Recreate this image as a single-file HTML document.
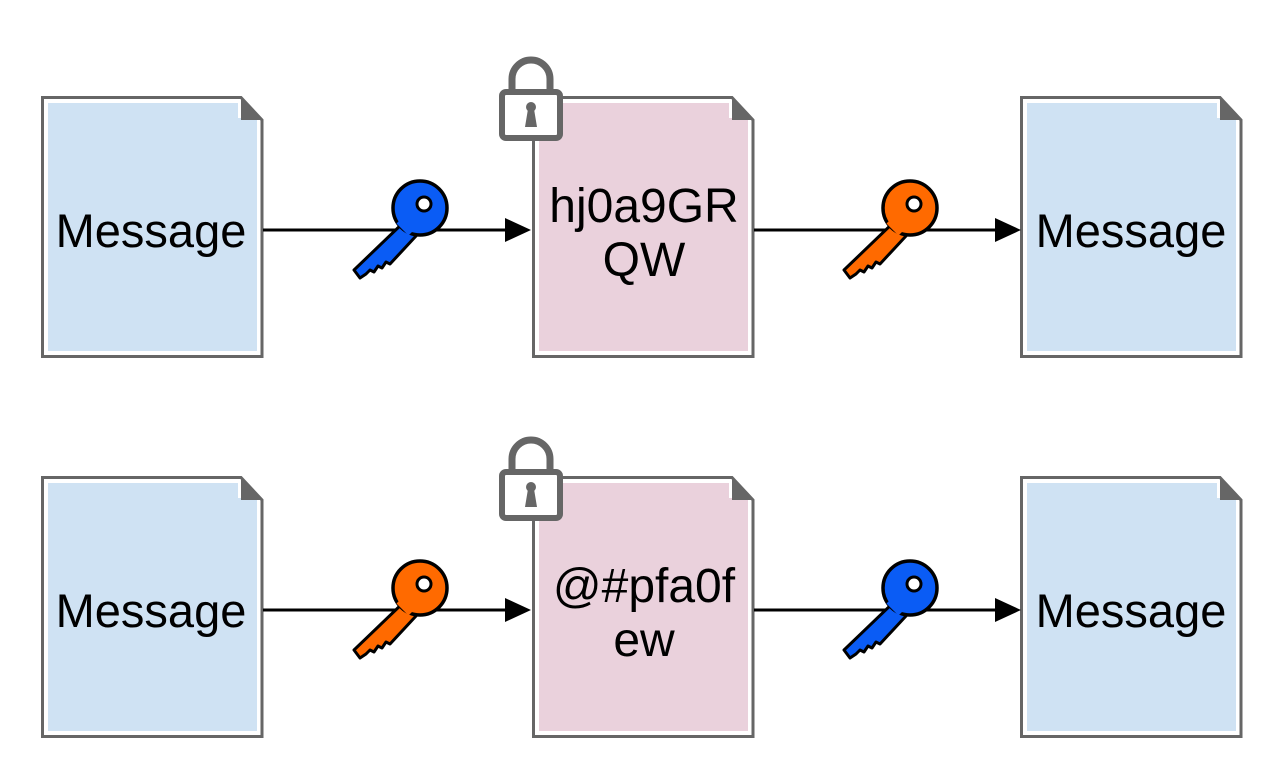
<!DOCTYPE html>
<html><head><style>html,body{margin:0;padding:0;background:#fff}svg{display:block}</style></head>
<body>
<svg width="1280" height="780" viewBox="0 0 1280 780" xmlns="http://www.w3.org/2000/svg" font-family="Liberation Sans, sans-serif">
<defs>
<g id="key">
  <path d="M-16,14 L-66,62 L-60,70 L-54,66 L-50,62 L-46,64 L-42,58 L-38,60 L-34,54 L-30,56 L-4,28 Z" fill="currentColor" stroke="#000" stroke-width="3" stroke-linejoin="round"/>
  <circle cx="0" cy="0" r="27" fill="currentColor" stroke="#000" stroke-width="3.5"/>
  <path d="M-20,12 L-8,24" stroke="currentColor" stroke-width="10"/>
  <circle cx="4" cy="-4" r="7" fill="#fff" stroke="#000" stroke-width="3"/>
</g>
<g id="lock">
  <path d="M12,32 V18 A19,19 0 0 1 50,18 V32" fill="none" stroke="#666" stroke-width="7"/>
  <rect x="2" y="31" width="58" height="46" rx="4" fill="#fff" stroke="#666" stroke-width="6"/>
  <circle cx="31" cy="46" r="5" fill="#666"/>
  <path d="M28,48 L25,66 L37,66 L34,48 Z" fill="#666"/>
</g>
</defs>

<g>
  <path d="M42.5,97.5 H241 L262,120 V356.5 H42.5 Z" fill="#fff" stroke="#666" stroke-width="3"/>
  <path d="M48,103 H238 V118 H257 V351 H48 Z" fill="#cfe2f3"/>
  <path d="M241,97.5 L262,120 H241 Z" fill="#666"/>

  <path d="M533.5,97.5 H732 L753,120 V356.5 H533.5 Z" fill="#fff" stroke="#666" stroke-width="3"/>
  <path d="M539,103 H729 V118 H748 V351 H539 Z" fill="#ead1dc"/>
  <path d="M732,97.5 L753,120 H732 Z" fill="#666"/>

  <path d="M1021.5,97.5 H1220 L1241,120 V356.5 H1021.5 Z" fill="#fff" stroke="#666" stroke-width="3"/>
  <path d="M1027,103 H1217 V118 H1236 V351 H1027 Z" fill="#cfe2f3"/>
  <path d="M1220,97.5 L1241,120 H1220 Z" fill="#666"/>

  <path d="M42.5,477.5 H241 L262,500 V736.5 H42.5 Z" fill="#fff" stroke="#666" stroke-width="3"/>
  <path d="M48,483 H238 V498 H257 V731 H48 Z" fill="#cfe2f3"/>
  <path d="M241,477.5 L262,500 H241 Z" fill="#666"/>

  <path d="M533.5,477.5 H732 L753,500 V736.5 H533.5 Z" fill="#fff" stroke="#666" stroke-width="3"/>
  <path d="M539,483 H729 V498 H748 V731 H539 Z" fill="#ead1dc"/>
  <path d="M732,477.5 L753,500 H732 Z" fill="#666"/>

  <path d="M1021.5,477.5 H1220 L1241,500 V736.5 H1021.5 Z" fill="#fff" stroke="#666" stroke-width="3"/>
  <path d="M1027,483 H1217 V498 H1236 V731 H1027 Z" fill="#cfe2f3"/>
  <path d="M1220,477.5 L1241,500 H1220 Z" fill="#666"/>
</g>

<g stroke="#000" stroke-width="3">
  <line x1="263" y1="230" x2="508" y2="230"/>
  <line x1="754" y1="230" x2="998" y2="230"/>
  <line x1="263" y1="610" x2="508" y2="610"/>
  <line x1="754" y1="610" x2="998" y2="610"/>
</g>
<g fill="#000">
  <path d="M505,218 L531,230 L505,242 Z"/>
  <path d="M995,218 L1021,230 L995,242 Z"/>
  <path d="M505,598 L531,610 L505,622 Z"/>
  <path d="M995,598 L1021,610 L995,622 Z"/>
</g>

<use href="#key" x="420" y="208" color="#0a5cf5"/>
<use href="#key" x="910" y="208" color="#ff6a00"/>
<use href="#key" x="420" y="588" color="#ff6a00"/>
<use href="#key" x="910" y="588" color="#0a5cf5"/>

<use href="#lock" x="500" y="61"/>
<use href="#lock" x="500" y="441"/>

<g font-size="47" text-anchor="middle" fill="#000">
  <text x="151" y="247">Message</text>
  <text x="1131" y="247">Message</text>
  <text x="151" y="627">Message</text>
  <text x="1131" y="627">Message</text>
  <text x="644" y="222" font-size="48">hj0a9GR</text>
  <text x="644" y="276" font-size="48">QW</text>
  <text x="644" y="602" font-size="48">@#pfa0f</text>
  <text x="644" y="656" font-size="48">ew</text>
</g>
</svg>
</body></html>
